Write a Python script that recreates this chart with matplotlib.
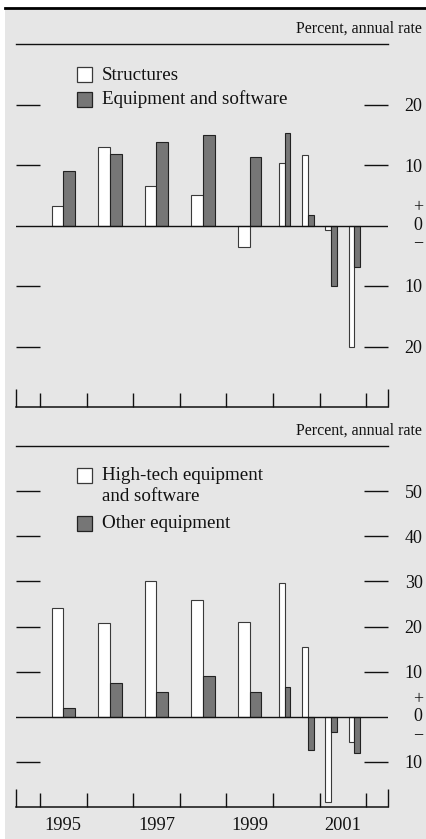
import matplotlib
matplotlib.use("Agg")
import matplotlib.pyplot as plt
from matplotlib.patches import Rectangle
from matplotlib.lines import Line2D
from matplotlib.ticker import FuncFormatter, FixedLocator
import matplotlib.transforms as mtransforms

# ---------------- data ----------------
periods = ["1995", "1996", "1997", "1998", "1999",
           "2000:H1", "2000:H2", "2001:H1", "2001:H2"]

structures = [3.3, 12.9, 6.5, 5.0, -3.6, 10.3, 11.6, -0.7, -20.1]
equipment = [9.0, 11.8, 13.8, 15.0, 11.3, 15.3, 1.8, -10.0, -6.9]

hightech = [24.1, 20.8, 30.1, 25.9, 21.0, 29.6, 15.5, -18.8, -5.7]
other_equipment = [1.9, 7.5, 5.5, 9.0, 5.5, 6.6, -7.3, -3.3, -8.0]

top_labels = ["Structures", "Equipment and software"]
bottom_labels = ["High-tech equipment\nand software", "Other equipment"]
unit_label = "Percent, annual rate"

year_ticks = [1995, 1996, 1997, 1998, 1999, 2000, 2001, 2002]
year_labels = ["1995", "1997", "1999", "2001"]

top_yticks = [-20, -10, 10, 20]
bottom_yticks = [-10, 10, 20, 30, 40, 50]

# ---------------- style ----------------
W, H = 426, 839
FONT = "Liberation Serif"
plt.rcParams["font.family"] = [FONT, "DejaVu Serif"]
BG = "#e6e6e6"
DARK = "#767676"
INK = "#111111"


def fx(x):
    return x / W


def fy(y):
    return 1 - y / H


def period_geometry(p):
    if ":" in p:
        yr, half = p.split(":")
        c = int(yr) + (0.25 if half == "H1" else 0.75)
        return c, 0.125
    return int(p) + 0.5, 0.25


fig = plt.figure(figsize=(W / 100, H / 100), dpi=100, facecolor="white")

# gray panel background and heavy rule at top
fig.patches.append(Rectangle((fx(5), 0), 1 - fx(5), fy(7), transform=fig.transFigure,
                             facecolor=BG, edgecolor="none", zorder=-10))
fig.lines.append(Line2D([fx(5), 1], [fy(8), fy(8)], transform=fig.transFigure,
                        color="#000000", lw=2.0, zorder=-5))

XLIM = (1994.485, 2002.47)


def make_panel(rect_px, ylim, yticks, s1, s2, labels, legend_px, unit_y, show_years):
    left, top, right, bottom = rect_px
    ax = fig.add_axes([fx(left), fy(bottom), (right - left) / W, (bottom - top) / H])
    ax.set_zorder(2)
    ax.set_facecolor("none")
    ax.set_xlim(*XLIM)
    ax.set_ylim(*ylim)

    xs, ws = zip(*[period_geometry(p) for p in periods])
    for x, w, a, b in zip(xs, ws, s1, s2):
        ax.bar(x - w / 2, a, width=w, color="white", edgecolor="#3a3a3a", linewidth=0.8, zorder=3)
        ax.bar(x + w / 2, b, width=w, color=DARK, edgecolor="#222222", linewidth=0.8, zorder=3)
    ax.axhline(0, color=INK, lw=1.0, zorder=4)

    for s in ("left", "right"):
        ax.spines[s].set_visible(False)
    ax.spines["top"].set_linewidth(1.0)
    ax.spines["bottom"].set_linewidth(1.1)
    ax.spines["top"].set_color(INK)
    ax.spines["bottom"].set_color(INK)

    # y ticks as dashes on both sides, labels on right
    ax.yaxis.set_major_locator(FixedLocator(yticks))
    ax.yaxis.set_major_formatter(FuncFormatter(lambda v, pos: f"{abs(v):g}"))
    ax.tick_params(axis="y", which="major", direction="in", length=17.3, width=1.0,
                   left=True, right=True, labelleft=False, labelright=True,
                   pad=12, labelsize=13, colors=INK)

    # x ticks
    ax.xaxis.set_major_locator(FixedLocator(year_ticks))
    ax.xaxis.set_minor_locator(FixedLocator(list(XLIM)))
    ax.tick_params(axis="x", which="major", direction="in", length=10, width=1.0,
                   top=False, bottom=True, labelbottom=False, colors=INK)
    ax.tick_params(axis="x", which="minor", direction="in", length=13, width=1.0,
                   top=False, bottom=True, labelbottom=False, colors=INK)

    # + 0 - at zero
    trans = mtransforms.blended_transform_factory(fig.transFigure, ax.transData)
    ax.text(fx(418), 0, "+\n0\n\u2212", transform=trans, ha="center", va="center",
            multialignment="center", fontsize=13, color=INK, linespacing=1.04)

    # unit label
    fig.text(fx(422), fy(unit_y), unit_label, ha="right", va="center", fontsize=11.5, color=INK)

    # legend (manual)
    (sq_x, sq1_y, t1_y, sq2_y, t2_y) = legend_px
    for (sy, ty, fc, ec, lab) in [(sq1_y, t1_y, "white", "#3a3a3a", labels[0]),
                                  (sq2_y, t2_y, DARK, "#222222", labels[1])]:
        fig.patches.append(Rectangle((fx(sq_x), fy(sy + 7.5)), 15 / W, 15 / H,
                                     transform=fig.transFigure, facecolor=fc,
                                     edgecolor=ec, lw=0.9, zorder=5))
        fig.text(fx(102), fy(ty), lab, ha="left", va="center", fontsize=13.7,
                 color=INK, linespacing=1.27)

    if show_years:
        yt = mtransforms.blended_transform_factory(ax.transData, fig.transFigure)
        for lab in year_labels:
            ax.text(int(lab) + 0.5, fy(826), lab, transform=yt, ha="center", va="center",
                    fontsize=13.2, color=INK)
    return ax


make_panel((16, 44, 388, 407), (-30, 30), top_yticks, structures, equipment, top_labels,
           (77, 74.5, 75, 99, 99), 29, False)
make_panel((16, 446, 388, 807), (-20, 60), bottom_yticks, hightech, other_equipment,
           bottom_labels, (77, 475.5, 486, 523, 523), 431, True)

fig.savefig("out.png", dpi=100, facecolor="white")
